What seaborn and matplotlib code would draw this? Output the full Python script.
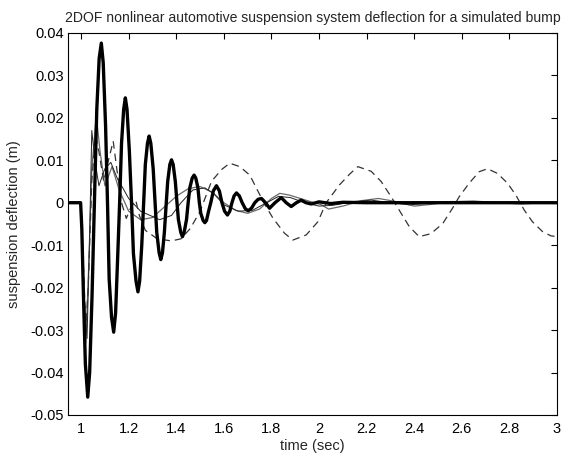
import numpy as np
import pandas as pd
import matplotlib
matplotlib.use("Agg")
import matplotlib.pyplot as plt
import seaborn as sns

# thick solid response
t_thick = [0.945, 0.998, 1.003, 1.010, 1.018, 1.028, 1.036, 1.046, 1.056, 1.066, 1.076,
           1.085, 1.093, 1.103, 1.111, 1.118, 1.128, 1.137, 1.145, 1.153, 1.162, 1.170,
           1.179, 1.186, 1.193, 1.203, 1.212, 1.220, 1.231, 1.239, 1.246, 1.255, 1.263,
           1.270, 1.279, 1.286, 1.293, 1.303, 1.311, 1.318, 1.328, 1.335, 1.342, 1.350,
           1.358, 1.364, 1.373, 1.380, 1.387, 1.396, 1.403, 1.409, 1.419, 1.426, 1.433,
           1.443, 1.450, 1.457, 1.467, 1.475, 1.482, 1.491, 1.497, 1.503, 1.513, 1.520,
           1.527, 1.535, 1.545, 1.556, 1.569, 1.581, 1.592, 1.603, 1.615, 1.625, 1.634,
           1.643, 1.653, 1.665, 1.677, 1.690, 1.702, 1.716, 1.730, 1.744, 1.758, 1.775,
           1.792, 1.815, 1.841, 1.862, 1.883, 1.905, 1.925, 1.945, 1.967, 2.000, 2.050,
           2.100, 2.200, 3.000]
y_thick = [0.0, 0.0, -0.006, -0.022, -0.038, -0.0458, -0.040, -0.022, 0.0, 0.022, 0.034,
           0.0376, 0.033, 0.018, 0.0, -0.018, -0.027, -0.0305, -0.026, -0.014, 0.0, 0.014,
           0.022, 0.0247, 0.022, 0.012, 0.0, -0.012, -0.0185, -0.021, -0.0185, -0.010, 0.0,
           0.009, 0.014, 0.0157, 0.014, 0.008, 0.0, -0.007, -0.0118, -0.0134, -0.0118, -0.007,
           0.0, 0.005, 0.009, 0.0101, 0.009, 0.005, 0.0, -0.004, -0.007, -0.0080, -0.007,
           -0.004, 0.0, 0.0035, 0.0058, 0.0065, 0.0058, 0.0035, 0.0, -0.0025, -0.0042, -0.0047,
           -0.0042, -0.0022, 0.0, 0.0028, 0.0040, 0.0028, 0.0, -0.002, -0.0029, -0.002, 0.0,
           0.0016, 0.0023, 0.0016, 0.0, -0.0014, -0.0019, -0.0013, 0.0, 0.0008, 0.0010, 0.0,
           -0.0013, 0.0, 0.0012, 0.0, -0.0009, 0.0, 0.0006, 0.0, -0.0003, 0.0002, -0.0002,
           0.0001, 0.0, 0.0]

# dashed response
t_dash = [0.945, 1.0, 1.01, 1.02, 1.03, 1.045, 1.06, 1.075, 1.095, 1.115, 1.135, 1.15,
          1.17, 1.19, 1.21, 1.23, 1.245, 1.27, 1.32, 1.38, 1.42, 1.46, 1.50, 1.548, 1.59,
          1.625, 1.667, 1.709, 1.737, 1.77, 1.807, 1.855, 1.89, 1.946, 1.995, 2.03, 2.086,
          2.128, 2.163, 2.219, 2.261, 2.303, 2.345, 2.38, 2.421, 2.47, 2.52, 2.561, 2.589,
          2.631, 2.673, 2.708, 2.75, 2.792, 2.827, 2.862, 2.897, 2.939, 2.974, 3.0]
y_dash = [0.0, 0.0, -0.015, -0.030, -0.020, 0.005, 0.016, 0.012, 0.005, 0.010, 0.0145, 0.008,
          0.0, -0.0037, -0.001, 0.0005, -0.003, -0.0065, -0.0085, -0.0090, -0.0085, -0.006,
          -0.002, 0.005, 0.0078, 0.0093, 0.0085, 0.0065, 0.0034, -0.0002, -0.0037, -0.0072,
          -0.0088, -0.0076, -0.0045, 0.0, 0.0042, 0.0067, 0.0085, 0.0074, 0.005, 0.0014,
          -0.0025, -0.0057, -0.0080, -0.0073, -0.0049, -0.0013, 0.0014, 0.0046, 0.0073,
          0.0080, 0.0069, 0.0046, 0.0018, -0.0017, -0.0045, -0.0068, -0.0078, -0.0080]

# thin grey response
t_grey = [0.945, 1.0, 1.008, 1.02, 1.032, 1.045, 1.064, 1.08, 1.10, 1.13, 1.16, 1.20, 1.25,
          1.30, 1.35, 1.40, 1.45, 1.50, 1.55, 1.60, 1.65, 1.70, 1.75, 1.80, 1.835, 1.875,
          1.95, 2.01, 2.04, 2.10, 2.18, 2.25, 2.32, 2.40, 2.47, 2.55, 2.65, 2.75, 2.85,
          2.95, 3.0]
y_grey = [0.0, 0.0, -0.015, -0.033, -0.015, 0.008, 0.0205, 0.012, 0.004, 0.0085, 0.003,
          -0.002, -0.004, -0.0035, -0.001, 0.0015, 0.0033, 0.0038, 0.0025, 0.0, -0.0018,
          -0.0025, -0.0015, 0.001, 0.0022, 0.0018, 0.0005, -0.0005, -0.0015, -0.0008,
          0.0005, 0.001, 0.0003, -0.0008, -0.0004, 0.0002, 0.0004, 0.0, -0.0003, 0.0, 0.0]

# thin black response
t_thin = [0.945, 1.0, 1.01, 1.025, 1.035, 1.045, 1.058, 1.075, 1.10, 1.125, 1.15, 1.17,
          1.20, 1.25, 1.33, 1.38, 1.42, 1.47, 1.52, 1.56, 1.60, 1.66, 1.72, 1.78, 1.83,
          1.88, 1.94, 2.0, 2.06, 2.15, 2.22, 2.30, 2.38, 2.45, 2.55, 2.65, 2.75, 2.85, 3.0]
y_thin = [0.0, 0.0, -0.020, -0.032, -0.010, 0.017, 0.010, 0.004, 0.008, 0.0095, 0.006,
          0.004, 0.001, -0.002, -0.004, -0.003, 0.0, 0.003, 0.0035, 0.002, -0.0005, -0.002,
          -0.0018, 0.0, 0.0015, 0.0012, 0.0, -0.0008, -0.0006, 0.0003, 0.0006, 0.0, -0.0005,
          -0.0002, 0.0003, 0.0003, -0.0001, -0.0002, 0.0]

x_ticks = [1, 1.2, 1.4, 1.6, 1.8, 2, 2.2, 2.4, 2.6, 2.8, 3]
x_tick_labels = ["1", "1.2", "1.4", "1.6", "1.8", "2", "2.2", "2.4", "2.6", "2.8", "3"]
y_ticks = [-0.05, -0.04, -0.03, -0.02, -0.01, 0, 0.01, 0.02, 0.03, 0.04]
y_tick_labels = ["-0.05", "-0.04", "-0.03", "-0.02", "-0.01", "0", "0.01", "0.02", "0.03", "0.04"]

sns.set_style("white")
plt.rcParams["font.family"] = ["Liberation Sans", "DejaVu Sans"]

fig = plt.figure(figsize=(5.69, 4.57), dpi=100)
ax = fig.add_axes([0.1195, 0.092, 0.8594, 0.836])

sns.lineplot(x=t_grey, y=y_grey, ax=ax, color="#6a6a6a", linewidth=0.9, sort=False, estimator=None)
sns.lineplot(x=t_thin, y=y_thin, ax=ax, color="#222222", linewidth=0.7, sort=False, estimator=None)
sns.lineplot(x=t_dash, y=y_dash, ax=ax, color="#333333", linewidth=0.9, sort=False,
             estimator=None, linestyle=(0, (6, 4)))
sns.lineplot(x=t_thick, y=y_thick, ax=ax, color="black", linewidth=2.4, sort=False, estimator=None)

ax.set_xlim(0.945, 3.0)
ax.set_ylim(-0.05, 0.04)
ax.set_xticks(x_ticks)
ax.set_xticklabels(x_tick_labels)
ax.set_yticks(y_ticks)
ax.set_yticklabels(y_tick_labels)
ax.tick_params(direction="in", length=4, width=0.8, top=True, right=True,
               labelsize=10.5, colors="black")
ax.tick_params(axis="y", pad=3)
ax.tick_params(axis="x", pad=5)
for s in ax.spines.values():
    s.set_color("black")
    s.set_linewidth(0.8)

ax.set_title("2DOF nonlinear automotive suspension system deflection for a simulated bump",
             fontsize=10.1, pad=8)
ax.set_xlabel("time (sec)", fontsize=10.5, labelpad=2)
ax.set_ylabel("suspension deflection (m)", fontsize=10.5, labelpad=7)

fig.savefig("out.png", dpi=100, facecolor="white")
